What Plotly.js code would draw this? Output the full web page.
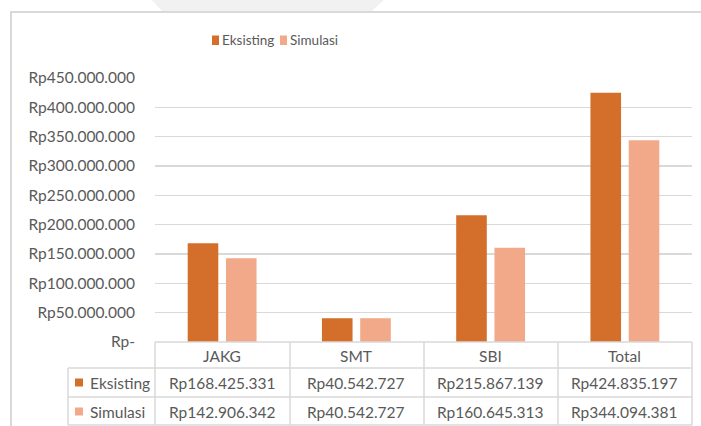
<!DOCTYPE html>
<html>
<head>
<meta charset="utf-8">
<script src="https://cdn.plot.ly/plotly-3.0.1.min.js"></script>
<style>html,body{margin:0;padding:0;background:#fff;}#chart{width:701px;height:426px;}</style>
</head>
<body>
<div id="chart"></div>
<script>
// ---- data ----
const categories = ["JAKG", "SMT", "SBI", "Total"];
const seriesNames = ["Eksisting", "Simulasi"];
const eksisting = [168425331, 40542727, 215867139, 424835197];
const simulasi = [142906342, 40542727, 160645313, 344094381];
const yTickVals = [0, 50000000, 100000000, 150000000, 200000000, 250000000, 300000000, 350000000, 400000000, 450000000];

// ---- style ----
const colors = ["#D46F2B", "#F1A98A"];
const textColor = "#595959";
const lineColor = "#D9D9D9";
const FONT = "Lato, 'Open Sans', sans-serif";
const FS = 15.5;

function fmt(v) {
  if (v === 0) return "Rp-";
  return "Rp" + String(v).replace(/\B(?=(\d{3})+(?!\d))/g, ".");
}

// pixel geometry of plot area
const W = 701, H = 426;
const PL = 155, PR = 692, PT = 78, PB = 342;
const px = X => (X - PL) / (PR - PL);
const py = Y => (PB - Y) / (PB - PT);

const shapes = [];
const annotations = [];

// faint watermark at top
shapes.push({type: "path", xref: "paper", yref: "paper",
  path: `M ${px(150)},${py(-2)} L ${px(386)},${py(-2)} L ${px(372)},${py(11)} L ${px(162)},${py(11)} Z`,
  fillcolor: "#F1F1F1", line: {width: 0}, layer: "below"});

// outer chart border
shapes.push({type: "rect", xref: "paper", yref: "paper",
  x0: px(11), x1: px(720), y0: py(12), y1: py(440),
  line: {color: lineColor, width: 2}});

// table lines
const rowY = [342, 368, 397, 425];
const colX = [PL, 290, 424, 558, PR];
function hline(x0, x1, y) {
  shapes.push({type: "line", xref: "paper", yref: "paper", x0: px(x0), x1: px(x1), y0: py(y), y1: py(y), line: {color: lineColor, width: 1.5}});
}
function vline(x, y0, y1) {
  shapes.push({type: "line", xref: "paper", yref: "paper", x0: px(x), x1: px(x), y0: py(y0), y1: py(y1), line: {color: lineColor, width: 1.5}});
}
hline(PL, PR, rowY[0]);
hline(68, PR, rowY[1]);
hline(68, PR, rowY[2]);
hline(68, PR, rowY[3]);
vline(68, rowY[1], rowY[3]);
colX.forEach(x => vline(x, rowY[0], rowY[3]));

// table header
categories.forEach(c => {
  annotations.push({x: c, xref: "x", y: py(355.5), yref: "paper", text: c, showarrow: false,
    xanchor: "center", yanchor: "middle", font: {family: FONT, size: FS, color: textColor}});
});
// table values
const rows = [eksisting, simulasi];
const rowCenters = [382.5, 411.5];
rows.forEach((vals, r) => {
  vals.forEach((v, i) => {
    annotations.push({x: categories[i], xref: "x", y: py(rowCenters[r]), yref: "paper", text: fmt(v), showarrow: false,
      xanchor: "center", yanchor: "middle", font: {family: FONT, size: FS, color: textColor}});
  });
  // legend key in table
  shapes.push({type: "rect", xref: "paper", yref: "paper", x0: px(75), x1: px(83), y0: py(rowCenters[r] - 4), y1: py(rowCenters[r] + 4),
    fillcolor: colors[r], line: {width: 0}});
  annotations.push({x: px(88), xref: "paper", y: py(rowCenters[r]), yref: "paper", text: seriesNames[r], showarrow: false,
    xanchor: "left", yanchor: "middle", font: {family: FONT, size: FS, color: textColor}});
});

// top legend
const legX = [212, 280];
const legTextX = [220, 288];
seriesNames.forEach((n, i) => {
  shapes.push({type: "rect", xref: "paper", yref: "paper", x0: px(legX[i]), x1: px(legX[i] + 7), y0: py(35.5), y1: py(45),
    fillcolor: colors[i], line: {width: 0}});
  annotations.push({x: px(legTextX[i]), xref: "paper", y: py(40.5), yref: "paper", text: n, showarrow: false,
    xanchor: "left", yanchor: "middle", font: {family: FONT, size: 13.5, color: textColor}});
});

const traces = [
  {type: "bar", name: seriesNames[0], x: categories, y: eksisting, marker: {color: colors[0]}, hoverinfo: "x+y"},
  {type: "bar", name: seriesNames[1], x: categories, y: simulasi, marker: {color: colors[1]}, hoverinfo: "x+y"}
];

const layout = {
  width: W, height: H,
  margin: {l: PL, r: W - PR, t: PT, b: H - PB, pad: 0},
  paper_bgcolor: "#ffffff", plot_bgcolor: "#ffffff",
  showlegend: false,
  barmode: "group", bargap: 0.43, bargroupgap: 0.2,
  font: {family: FONT, size: FS, color: textColor},
  xaxis: {type: "category", range: [-0.5, 3.5], showticklabels: false, showgrid: false, zeroline: false, showline: false, ticks: ""},
  yaxis: {range: [0, 450000000], tickvals: yTickVals, ticktext: yTickVals.map(fmt), showgrid: true, gridcolor: lineColor, gridwidth: 1.5,
    zeroline: false, showline: false, ticks: "", ticklabelstandoff: 19,
    tickfont: {family: FONT, size: FS, color: textColor}},
  shapes: shapes,
  annotations: annotations
};

Plotly.newPlot("chart", traces, layout, {displayModeBar: false, staticPlot: true});
</script>
</body>
</html>
